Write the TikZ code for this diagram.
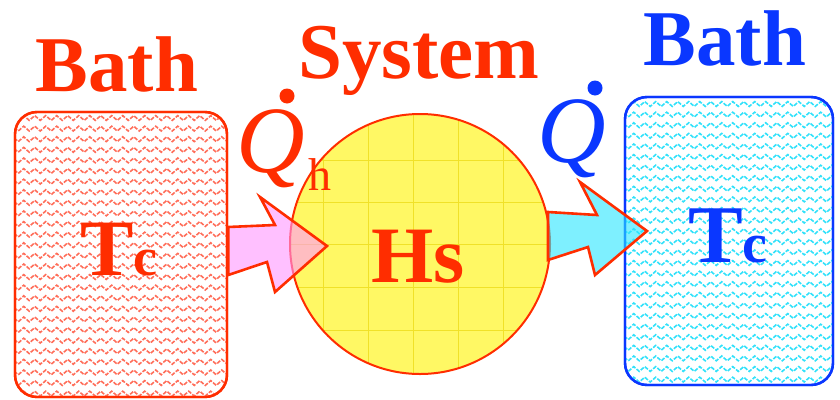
\documentclass[tikz,border=0pt]{standalone}
\usepackage{fontspec}
\setmainfont{Liberation Serif}
\usetikzlibrary{decorations.pathmorphing}
\definecolor{hotred}{RGB}{255,45,0}
\definecolor{deepblue}{RGB}{10,55,255}
\definecolor{zzred}{RGB}{255,110,90}
\definecolor{zzcyan}{RGB}{50,225,250}
\definecolor{sysyellow}{RGB}{255,248,100}
\definecolor{gridyellow}{RGB}{240,225,40}
\definecolor{pinkfill}{RGB}{255,150,255}
\definecolor{cyanfill}{RGB}{40,230,255}
\tikzset{
  title/.style={font=\bfseries\fontsize{79}{79}\selectfont, anchor=base, inner sep=0pt},
  bathbox/.style={draw, line width=2.4pt, rounded corners=22pt, minimum width=#1, inner sep=0pt},
  zz/.style={decorate, decoration={zigzag, segment length=11pt, amplitude=2.4pt}, line width=1.6pt, dash pattern=on 4pt off 1.5pt},
  arrowfill/.style={fill opacity=0.6},
  arrowline/.style={draw=hotred, line width=2.6pt, line join=miter},
  qdot/.style={circle, fill, inner sep=0pt, minimum size=15pt}
}
\begin{document}
\begin{tikzpicture}[x=1pt,y=-1pt]
\useasboundingbox (0,0) rectangle (840,399);
% left bath
\node[bathbox=212pt, minimum height=285pt, draw=hotred] (lbath) at (121,254.5) {};
\begin{scope}
\clip[rounded corners=22pt] (16,113) rectangle (226,396);
\foreach \yy in {118,128.6,...,396} \draw[zz, zzred] (10,\yy) -- (235,\yy);
\end{scope}
\node[bathbox=212pt, minimum height=285pt, draw=hotred] at (lbath) {};
% right bath
\node[bathbox=208pt, minimum height=288pt, draw=deepblue] (rbath) at (729,241) {};
\begin{scope}
\clip[rounded corners=22pt] (626,98) rectangle (832,384);
\foreach \yy in {104,114.6,...,384} \draw[zz, zzcyan] (620,\yy) -- (840,\yy);
\end{scope}
\node[bathbox=208pt, minimum height=288pt, draw=deepblue] at (rbath) {};
% system
\node[circle, minimum size=260pt, fill=sysyellow, inner sep=0pt] (sys) at (420,244) {};
\begin{scope}
\clip (sys.center) circle (130pt);
\foreach \xx in {323,368,413,458,503} \draw[gridyellow, line width=0.8pt] (\xx,100) -- (\xx,390);
\foreach \yy in {160,202,244,287,330} \draw[gridyellow, line width=0.8pt] (280,\yy) -- (560,\yy);
\end{scope}
\draw[hotred, line width=2pt] (sys.center) circle (130pt);
% arrows
\coordinate (ltip) at (327,246);
\coordinate (rtip) at (647,231);
\fill[arrowfill, pinkfill] (lbath.east |- 0,227) -- (275,225) -- (260,197) -- (ltip) -- (275,292) -- (267,262) -- (lbath.east |- 0,275) -- cycle;
\draw[arrowline] (lbath.east |- 0,227) -- (275,225) -- (260,197) -- (ltip) -- (275,292) -- (267,262) -- (lbath.east |- 0,275) -- cycle;
\fill[arrowfill, cyanfill] (548,212) -- (597,215) -- (580,182) -- (rtip) -- (595,275) -- (588,247) -- (548,260) -- cycle;
\draw[arrowline] (548,212) -- (597,215) -- (580,182) -- (rtip) -- (595,275) -- (588,247) -- (548,260) -- cycle;
% titles
\node[title, text=hotred] (lt) at (117,91) {Bath};
\node[title, text=hotred] (st) at (419,78) {System};
\node[title, text=deepblue] (rt) at (725,65) {Bath};
% inner labels
\node[anchor=base, inner sep=0pt, text=hotred, font=\bfseries] (ltc) at (119,275) {\fontsize{80}{80}\selectfont T\fontsize{54}{54}\selectfont c};
\node[anchor=base, inner sep=0pt, text=deepblue, font=\bfseries] (rtc) at (728,262) {\fontsize{82}{82}\selectfont T\fontsize{56}{56}\selectfont c};
\node[anchor=base, inner sep=0pt, text=hotred, font=\bfseries\fontsize{80}{80}\selectfont] (hs) at (418,282) {Hs};
% heat labels
\node[anchor=base, inner sep=0pt, text=hotred, font=\itshape\fontsize{95}{95}\selectfont] (qh) at (271,172) {Q};
\node[qdot, fill=hotred] (qhdot) at (287,96) {};
\node[anchor=base, inner sep=0pt, text=hotred, font=\fontsize{46}{46}\selectfont] (hsub) at (320,190) {h};
\node[anchor=base, inner sep=0pt, text=deepblue, font=\itshape\fontsize{95}{95}\selectfont] (qc) at (572,162) {Q};
\node[qdot, fill=deepblue] (qcdot) at (595,88) {};
\end{tikzpicture}
\end{document}
